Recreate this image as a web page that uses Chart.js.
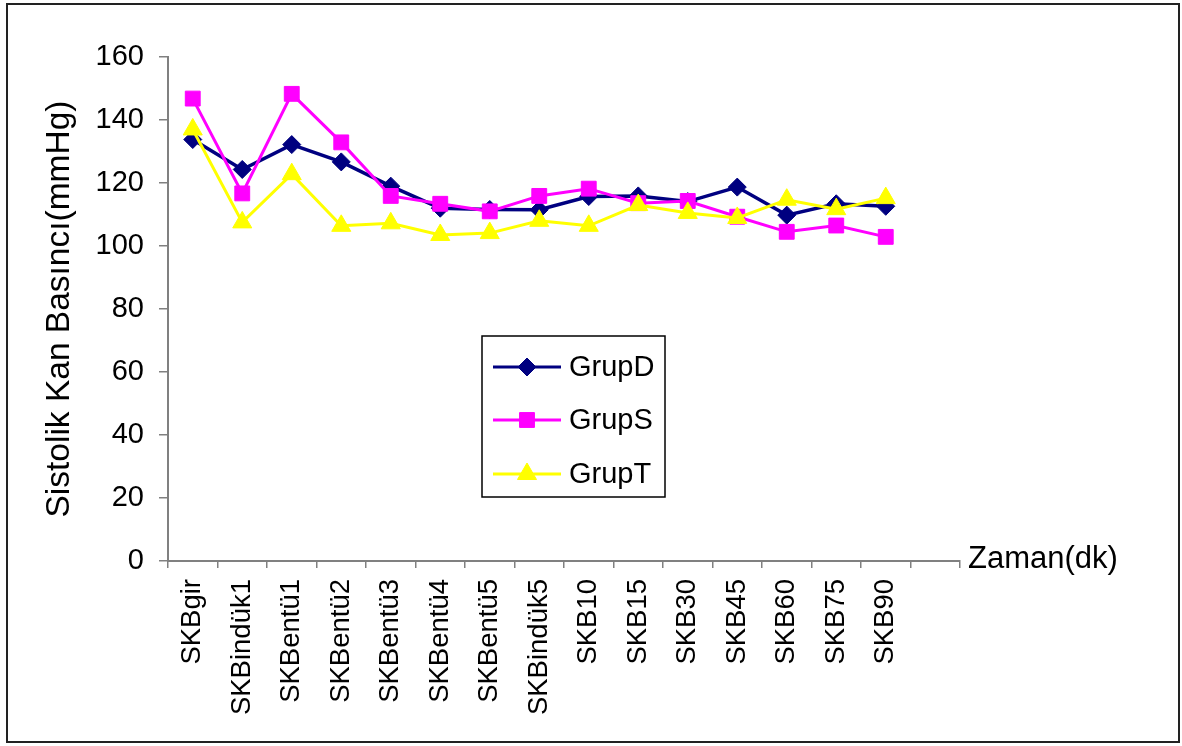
<!DOCTYPE html>
<html>
<head>
<meta charset="utf-8">
<title>Sistolik Kan Basıncı</title>
<script src="https://cdn.jsdelivr.net/npm/chart.js@4/dist/chart.umd.min.js"></script>
<style>
  html, body { margin: 0; padding: 0; background: #fff; }
  #wrap { position: relative; width: 1182px; height: 746px; }
  canvas { display: block; }
</style>
</head>
<body>
<div id="wrap"><canvas id="chart" width="1182" height="746"></canvas></div>
<script>
// Measurement points (an empty slot closes the axis on the right)
const categories = ['SKBgir', 'SKBindük1', 'SKBentü1', 'SKBentü2', 'SKBentü3', 'SKBentü4',
  'SKBentü5', 'SKBindük5', 'SKB10', 'SKB15', 'SKB30', 'SKB45', 'SKB60', 'SKB75', 'SKB90', ''];

// Mean systolic pressure per group (mmHg)
const grupD = [133.8, 124.3, 132.2, 126.7, 119.0, 112.0, 111.6, 111.5, 115.7, 115.9, 114.1, 118.7, 109.8, 113.4, 112.6];
const grupS = [146.8, 116.7, 148.3, 132.9, 115.9, 113.4, 111.0, 115.9, 118.2, 113.6, 114.3, 109.3, 104.5, 106.5, 102.9];
const grupT = [137.0, 107.5, 122.8, 106.4, 107.2, 103.5, 104.1, 108.0, 106.4, 113.0, 110.5, 108.9, 114.7, 111.7, 115.2];

const yTicks = [0, 20, 40, 60, 80, 100, 120, 140, 160];

const FONT = "'Liberation Sans', Arial, sans-serif";
const AXIS_GREY = '#808080';

// Frame around the whole figure, the "Zaman(dk)" axis caption and the boxed legend
const decorations = {
  id: 'decorations',
  beforeDraw(chart) {
    const ctx = chart.ctx;
    ctx.save();
    ctx.fillStyle = '#fff';
    ctx.fillRect(0, 0, chart.width, chart.height);
    ctx.restore();
  },
  afterDraw(chart) {
    const ctx = chart.ctx;
    const area = chart.chartArea;
    ctx.save();
    // outer frame
    ctx.strokeStyle = '#222';
    ctx.lineWidth = 2;
    ctx.strokeRect(7, 4, 1172, 738);

    // x axis caption, to the right of the axis end
    ctx.fillStyle = '#000';
    ctx.font = '31px ' + FONT;
    ctx.textAlign = 'left';
    ctx.textBaseline = 'alphabetic';
    ctx.fillText('Zaman(dk)', area.right + 8, area.bottom + 7);

    // legend box
    const box = { x: 482, y: 336, w: 183, h: 161 };
    ctx.strokeStyle = '#000';
    ctx.lineWidth = 1.5;
    ctx.strokeRect(box.x, box.y, box.w, box.h);
    const rows = [367, 420, 474];
    chart.data.datasets.forEach((ds, i) => {
      const y = rows[i];
      ctx.strokeStyle = ds.borderColor;
      ctx.lineWidth = 3;
      ctx.beginPath();
      ctx.moveTo(493, y);
      ctx.lineTo(561, y);
      ctx.stroke();
      ctx.fillStyle = ds.pointBackgroundColor;
      ctx.strokeStyle = ds.pointBorderColor;
      ctx.lineWidth = 1;
      Chart.helpers.drawPoint(ctx, {
        pointStyle: ds.pointStyle,
        radius: ds.pointRadius,
        borderWidth: 1,
        rotation: 0
      }, 527, y);
      ctx.fillStyle = '#000';
      ctx.font = '29px ' + FONT;
      ctx.textAlign = 'left';
      ctx.textBaseline = 'middle';
      ctx.fillText(ds.label, 569, y + 1);
    });
    ctx.restore();
  }
};

function series(label, data, color, style, radius, width, order) {
  return {
    label, data,
    borderColor: color,
    backgroundColor: color,
    pointBackgroundColor: color,
    pointBorderColor: color,
    pointStyle: style,
    pointRadius: radius,
    pointHoverRadius: radius,
    pointBorderWidth: 1,
    borderWidth: width,
    tension: 0,
    fill: false,
    order
  };
}

const chart = new Chart(document.getElementById('chart'), {
  type: 'line',
  data: {
    labels: categories,
    datasets: [
      series('GrupD', grupD, '#000080', 'rectRot', 9, 3.5, 2),
      series('GrupS', grupS, '#FF00FF', 'rect', 10.5, 3, 1),
      series('GrupT', grupT, '#FFFF00', 'triangle', 11, 3, 0)
    ]
  },
  options: {
    responsive: false,
    animation: false,
    devicePixelRatio: 1,
    layout: { padding: { left: 0, top: 57, right: 222, bottom: 0 } },
    plugins: {
      legend: { display: false },
      tooltip: { enabled: false },
      title: { display: false }
    },
    scales: {
      x: {
        type: 'category',
        offset: true,
        afterFit(scale) { scale.height = 185; },
        grid: {
          display: true,
          offset: true,
          drawOnChartArea: false,
          drawTicks: true,
          tickLength: 7,
          color: AXIS_GREY,
          lineWidth: 1.5
        },
        border: { display: true, color: AXIS_GREY, width: 2 },
        ticks: {
          autoSkip: false,
          minRotation: 90,
          maxRotation: 90,
          padding: 11,
          color: '#000',
          font: { family: FONT, size: 27.5 }
        }
      },
      y: {
        min: 0,
        max: 160,
        afterFit(scale) { scale.width = 168; },
        afterBuildTicks(scale) { scale.ticks = yTicks.map(v => ({ value: v })); },
        grid: {
          display: true,
          drawOnChartArea: false,
          drawTicks: true,
          tickLength: 9,
          color: AXIS_GREY,
          lineWidth: 1.5
        },
        border: { display: true, color: AXIS_GREY, width: 2 },
        ticks: {
          padding: 15,
          color: '#000',
          font: { family: FONT, size: 29 }
        },
        title: {
          display: true,
          text: 'Sistolik Kan Basıncı(mmHg)',
          color: '#000',
          font: { family: FONT, size: 33.5 },
          padding: { top: 40, bottom: 0 }
        }
      }
    }
  },
  plugins: [decorations]
});
</script>
</body>
</html>
